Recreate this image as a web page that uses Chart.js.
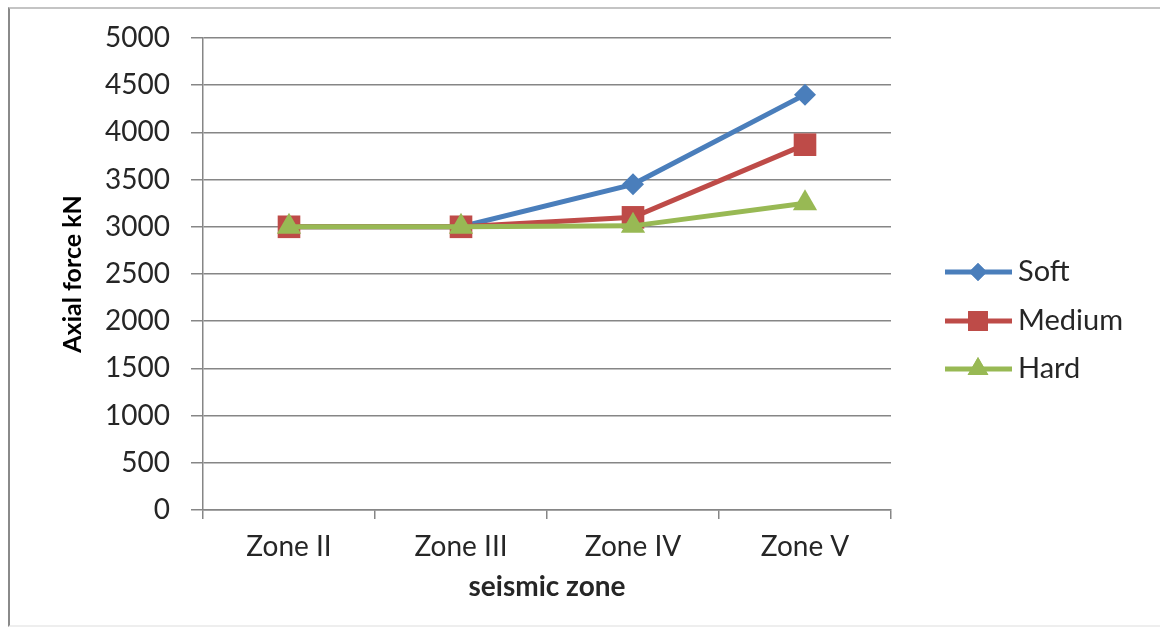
<!DOCTYPE html>
<html>
<head>
<meta charset="utf-8">
<script src="https://cdn.jsdelivr.net/npm/chart.js@4/dist/chart.umd.min.js"></script>
<style>
  html, body { margin: 0; padding: 0; background: #fff; }
  #wrap { position: relative; width: 1160px; height: 631px; overflow: hidden; }
  #frame {
    position: absolute; left: 8px; top: 7px; width: 1200px; height: 616px;
    border-left: 2px solid #8a8a8a; border-top: 2px solid #c4c4c4; border-bottom: 2px solid #eeeeee;
    pointer-events: none;
  }
  canvas { position: absolute; left: 0; top: 0; }
</style>
</head>
<body>
<div id="wrap">
  <canvas id="grafica" width="1160" height="631"></canvas>
  <div id="frame"></div>
</div>
<script>
// Datos de la gráfica
const zonas = ['Zone II', 'Zone III', 'Zone IV', 'Zone V'];
const soft = [3000, 3000, 3450, 4400];
const medium = [3000, 3000, 3100, 3870];
const hard = [3000, 3000, 3010, 3250];
const nombresSeries = ['Soft', 'Medium', 'Hard'];
const ticksY = [0, 500, 1000, 1500, 2000, 2500, 3000, 3500, 4000, 4500, 5000];

const colores = ['#4a7ebb', '#be4b48', '#98b954'];
const marcadores = ['rectRot', 'rect', 'triangle'];
const radios = [11, 16, 14];
const fuente = 'Lato, "Open Sans", sans-serif';
const gris = '#868686';

// Leyenda dibujada a mano (linea + marcador, estilo Excel)
const leyenda = {
  id: 'leyenda',
  afterDraw(chart) {
    const ctx = chart.ctx;
    const filas = [272, 321, 369];
    ctx.save();
    chart.data.datasets.forEach((ds, i) => {
      const y = filas[i];
      ctx.strokeStyle = ds.borderColor;
      ctx.lineWidth = 5;
      ctx.beginPath();
      ctx.moveTo(945, y);
      ctx.lineTo(1012, y);
      ctx.stroke();
      ctx.fillStyle = ds.borderColor;
      Chart.helpers.drawPoint(ctx, {
        pointStyle: ds.pointStyle,
        radius: [9, 14, 12][i],
        rotation: 0,
        borderWidth: 0
      }, 978, y);
      ctx.fill();
      ctx.fillStyle = '#262626';
      ctx.font = '29px ' + fuente;
      ctx.textAlign = 'left';
      ctx.textBaseline = 'middle';
      ctx.fillText(nombresSeries[i], 1018, y);
    });
    ctx.restore();
  }
};

const series = [soft, medium, hard];

new Chart(document.getElementById('grafica').getContext('2d'), {
  type: 'line',
  data: {
    labels: zonas,
    datasets: series.map((valores, i) => ({
      label: nombresSeries[i],
      data: valores,
      borderColor: colores[i],
      backgroundColor: colores[i],
      borderWidth: 5,
      pointStyle: marcadores[i],
      pointRadius: radios[i],
      pointHoverRadius: radios[i],
      pointBorderWidth: 0,
      pointBackgroundColor: colores[i],
      tension: 0,
      order: 3 - i
    }))
  },
  options: {
    responsive: false,
    animation: false,
    layout: { padding: { left: 58, right: 269, top: 38, bottom: 0 } },
    plugins: {
      legend: { display: false },
      tooltip: { enabled: false }
    },
    scales: {
      x: {
        offset: true,
        grid: { display: true, drawOnChartArea: false, drawTicks: true, tickLength: 9, color: gris, lineWidth: 1.5, offset: true },
        border: { color: gris, width: 1.5 },
        ticks: { color: '#262626', font: { family: fuente, size: 28 }, padding: 11, maxRotation: 0 },
        title: { display: true, text: 'seismic zone', color: '#262626', font: { family: fuente, size: 28, weight: 'bold' }, padding: { top: 0, bottom: 27 } },
        afterFit: s => { s.height = 121; }
      },
      y: {
        min: 0,
        max: 5000,
        afterBuildTicks: s => { s.ticks = ticksY.map(v => ({ value: v })); },
        grid: { color: gris, lineWidth: 1.5, tickLength: 12, drawTicks: true },
        border: { color: gris, width: 1.5 },
        ticks: { color: '#262626', font: { family: fuente, size: 28 }, padding: 21, callback: v => String(v) },
        title: { display: true, text: 'Axial force kN', color: '#000', font: { family: fuente, size: 25, weight: 'bold' }, padding: { top: 0, bottom: 0 } },
        afterFit: s => { s.width = 145; }
      }
    }
  },
  plugins: [leyenda]
});
</script>
</body>
</html>
